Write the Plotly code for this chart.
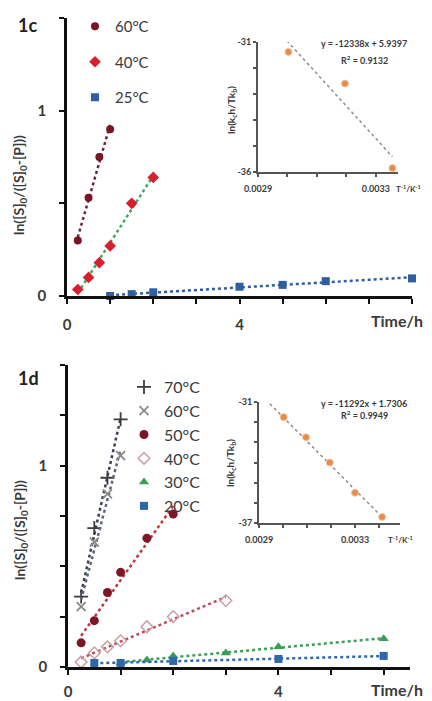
import numpy as np
import plotly.graph_objects as go

W, H = 432, 701

# ---------------- data: panel 1c ----------------
t60c = [0.25, 0.5, 0.75, 1.0]
v60c = [0.30, 0.53, 0.75, 0.90]
t40c = [0.25, 0.5, 0.75, 1.0, 1.5, 2.0]
v40c = [0.035, 0.10, 0.18, 0.27, 0.50, 0.64]
t25c = [1.0, 1.5, 2.0, 4.0, 5.0, 6.0, 8.0]
v25c = [0.0, 0.01, 0.02, 0.05, 0.06, 0.08, 0.095]

inv_T_c = [0.003003, 0.003195, 0.003356]
lnk_c = [-31.38, -32.6, -35.85]
eq_c = "y = -12338x + 5.9397"
r2_c = "R<sup>2</sup> = 0.9132"

# ---------------- data: panel 1d ----------------
t70d = [0.25, 0.5, 0.75, 1.0]
v70d = [0.35, 0.69, 0.94, 1.23]
t60d = [0.25, 0.5, 0.75, 1.0]
v60d = [0.30, 0.62, 0.86, 1.05]
t50d = [0.25, 0.5, 0.75, 1.0, 1.5, 2.0]
v50d = [0.12, 0.23, 0.37, 0.47, 0.64, 0.76]
t40d = [0.25, 0.5, 0.75, 1.0, 1.5, 2.0, 3.0]
v40d = [0.025, 0.07, 0.10, 0.13, 0.20, 0.25, 0.33]
t30d = [1.0, 1.5, 2.0, 3.0, 4.0, 6.0]
v30d = [0.02, 0.035, 0.055, 0.07, 0.10, 0.14]
t20d = [0.5, 1.0, 2.0, 4.0, 6.0]
v20d = [0.02, 0.02, 0.03, 0.04, 0.055]

inv_T_d = [0.002915, 0.003003, 0.003096, 0.003195, 0.003300, 0.003413]
lnk_d = [-30.85, -31.75, -32.75, -34.0, -35.5, -36.7]
eq_d = "y = -11292x + 1.7306"
r2_d = "R<sup>2</sup> = 0.9949"

FONT = "Lato, 'Open Sans', Arial, sans-serif"
TXT = "#3a3a3a"


def px(x):
    return x / W


def py(y):
    return 1 - y / H


fig = go.Figure()


def series(t, v, name, xa, ya, sym, mcol, lcol, size, legend, open_=False):
    t = np.asarray(t, float)
    v = np.asarray(v, float)
    k, b = np.polyfit(t, v, 1)
    xs = np.array([t.min(), t.max()])
    fig.add_trace(go.Scatter(x=xs, y=k * xs + b, mode="lines", xaxis=xa, yaxis=ya,
                             line=dict(color=lcol, width=2.5, dash="dot"),
                             showlegend=False, hoverinfo="skip", cliponaxis=False))
    marker = dict(symbol=sym, size=size, color=mcol)
    if open_:
        marker["line"] = dict(color=mcol, width=1.5)
    elif sym in ("cross-thin", "x-thin"):
        marker["line"] = dict(color=mcol, width=1.8)
    fig.add_trace(go.Scatter(x=t, y=v, mode="markers", name=name, xaxis=xa, yaxis=ya,
                             marker=marker, legend=legend, legendgroup=name + legend,
                             showlegend=True, cliponaxis=False))


# panel 1c main
series(t60c, v60c, "60°C", "x", "y", "circle", "#7a1526", "#6a2444", 8, "legend")
series(t40c, v40c, "40°C", "x", "y", "diamond", "#d6202e", "#3aa86a", 9, "legend")
series(t25c, v25c, "25°C", "x", "y", "square", "#2f5f9f", "#2f5f9f", 8, "legend")

# panel 1d main
series(t70d, v70d, "70°C", "x3", "y3", "cross-thin", "#3c3c3c", "#3b4055", 10, "legend2")
series(t60d, v60d, "60°C", "x3", "y3", "x-thin", "#8a8a8a", "#5b6478", 9, "legend2")
series(t50d, v50d, "50°C", "x3", "y3", "circle", "#7e1628", "#c0343c", 9, "legend2")
series(t40d, v40d, "40°C", "x3", "y3", "diamond-open", "#c8a0a8", "#c24a5c", 9, "legend2", open_=True)
series(t30d, v30d, "30°C", "x3", "y3", "triangle-up", "#3a9e58", "#3a9e58", 9, "legend2")
series(t20d, v20d, "20°C", "x3", "y3", "square", "#2f67ab", "#2f67ab", 8, "legend2")


def inset(xv, yv, xa, ya):
    xv = np.asarray(xv, float)
    yv = np.asarray(yv, float)
    k, b = np.polyfit(xv, yv, 1)
    xs = np.array([xv.min() - 0.000005, xv.max()])
    fig.add_trace(go.Scatter(x=xs, y=k * xs + b, mode="lines", xaxis=xa, yaxis=ya,
                             line=dict(color="#9a8a80", width=1.5, dash="dot"),
                             showlegend=False, hoverinfo="skip", cliponaxis=False))
    fig.add_trace(go.Scatter(x=xv, y=yv, mode="markers", xaxis=xa, yaxis=ya,
                             marker=dict(symbol="circle", size=7, color="#e88a48",
                                         line=dict(color="#f2c8a0", width=1)),
                             showlegend=False, cliponaxis=False))


inset(inv_T_c, lnk_c, "x2", "y2")
inset(inv_T_d, lnk_d, "x4", "y4")

main_axis = dict(showgrid=False, zeroline=False, showline=True, linecolor="#111",
                 linewidth=2.5, ticks="outside", ticklen=5, tickwidth=2, tickcolor="#111",
                 automargin=False,
                 tickfont=dict(family=FONT, size=15, color=TXT, weight="bold"))
inset_axis = dict(showgrid=False, zeroline=False, showline=True, linecolor="#555",
                  linewidth=1.8, ticks="outside", ticklen=3, tickwidth=1.5, tickcolor="#555",
                  automargin=False,
                  tickfont=dict(family=FONT, size=9, color=TXT, weight="bold"))

xt_c = list(range(0, 9))
xt_d = list(range(0, 7))

fig.update_layout(
    template="none",
    width=W, height=H, margin=dict(l=0, r=0, t=0, b=0, autoexpand=False),
    paper_bgcolor="white", plot_bgcolor="rgba(0,0,0,0)",
    xaxis=dict(main_axis, domain=[px(67), px(412)], range=[0, 8], anchor="y",
               tickvals=xt_c, ticktext=["0", "", "", "", "4", "", "", "", ""],
               ticklabelstandoff=8),
    yaxis=dict(main_axis, domain=[py(296), py(18)], range=[0, 1.5], anchor="x",
               tickvals=[0, 0.5, 1, 1.5], ticktext=["0", "", "1", ""],
               ticklabelstandoff=10),
    xaxis2=dict(inset_axis, domain=[px(258), px(398)], range=[0.0029, 0.003375], anchor="y2",
                tickvals=[0.0029, 0.0030, 0.0031, 0.0032, 0.0033],
                ticktext=["0.0029", "", "", "", "0.0033"], ticklabelstandoff=4),
    yaxis2=dict(inset_axis, domain=[py(172), py(42)], range=[-36, -31], anchor="x2",
                tickvals=[-36, -35, -34, -33, -32, -31],
                ticktext=["-36", "", "", "", "", "-31"]),
    xaxis3=dict(main_axis, domain=[px(68), px(410)], range=[0, 6.5], anchor="y3",
                tickvals=xt_d, ticktext=["0", "", "", "", "4", "", ""],
                ticklabelstandoff=4),
    yaxis3=dict(main_axis, domain=[py(667), py(365)], range=[0, 1.5], anchor="x3",
                tickvals=[0, 0.25, 0.5, 0.75, 1, 1.25, 1.5],
                ticktext=["0", "", "", "", "1", "", ""], ticklabelstandoff=10),
    xaxis4=dict(inset_axis, domain=[px(259), px(400)], range=[0.0029, 0.0034875], anchor="y4",
                tickvals=[0.0029, 0.0030, 0.0031, 0.0032, 0.0033, 0.0034],
                ticktext=["0.0029", "", "", "", "0.0033", ""], ticklabelstandoff=4),
    yaxis4=dict(inset_axis, domain=[py(523), py(402)], range=[-37, -31], anchor="x4",
                tickvals=[-37, -36, -35, -34, -33, -32, -31],
                ticktext=["-37", "", "", "", "", "", "-31"]),
    legend=dict(x=px(75), y=py(10), xanchor="left", yanchor="top",
                font=dict(family=FONT, size=15, color=TXT), tracegroupgap=13,
                bgcolor="rgba(0,0,0,0)", traceorder="grouped", itemwidth=30),
    legend2=dict(x=px(124), y=py(370), xanchor="left", yanchor="top",
                 font=dict(family=FONT, size=16, color=TXT), tracegroupgap=0,
                 bgcolor="rgba(0,0,0,0)", traceorder="grouped", itemwidth=30),
    showlegend=True,
)

ann = []


def text(x, y, s, size, bold=True, angle=0, color=TXT, xanchor="center"):
    ann.append(dict(x=px(x), y=py(y), xref="paper", yref="paper", text=s, showarrow=False,
                    textangle=angle, xanchor=xanchor, yanchor="middle",
                    font=dict(family=FONT, size=size, color=color,
                              weight="bold" if bold else "normal")))


ytitle = "ln([S]<sub>0</sub>/([S]<sub>0</sub>-[P]))"
text(27, 25, "1c", 18, xanchor="center", color="#222")
text(28, 378, "1d", 18, xanchor="center", color="#222")
text(20, 185, ytitle, 14, angle=-90)
text(20, 530, ytitle, 14, angle=-90)
text(397, 320, "Time/h", 16)
text(397, 689, "Time/h", 16)
# inset labels
text(364, 43, eq_c, 9)
text(364, 60, r2_c, 9)
text(231, 110, "ln(k<sub>c</sub>h/Tk<sub>b</sub>)", 10, angle=-90)
text(408, 188, "T<sup>-1</sup>/K<sup>-1</sup>", 8)
text(364, 403, eq_d, 9)
text(364, 415, r2_d, 9)
text(231, 463, "ln(k<sub>c</sub>h/Tk<sub>b</sub>)", 10, angle=-90)
text(400, 539, "T<sup>-1</sup>/K<sup>-1</sup>", 8)

fig.update_layout(annotations=ann)
fig.write_html("out.html", config={"displayModeBar": False},
               post_script="document.body.style.margin='0px';document.body.style.padding='0px';")
